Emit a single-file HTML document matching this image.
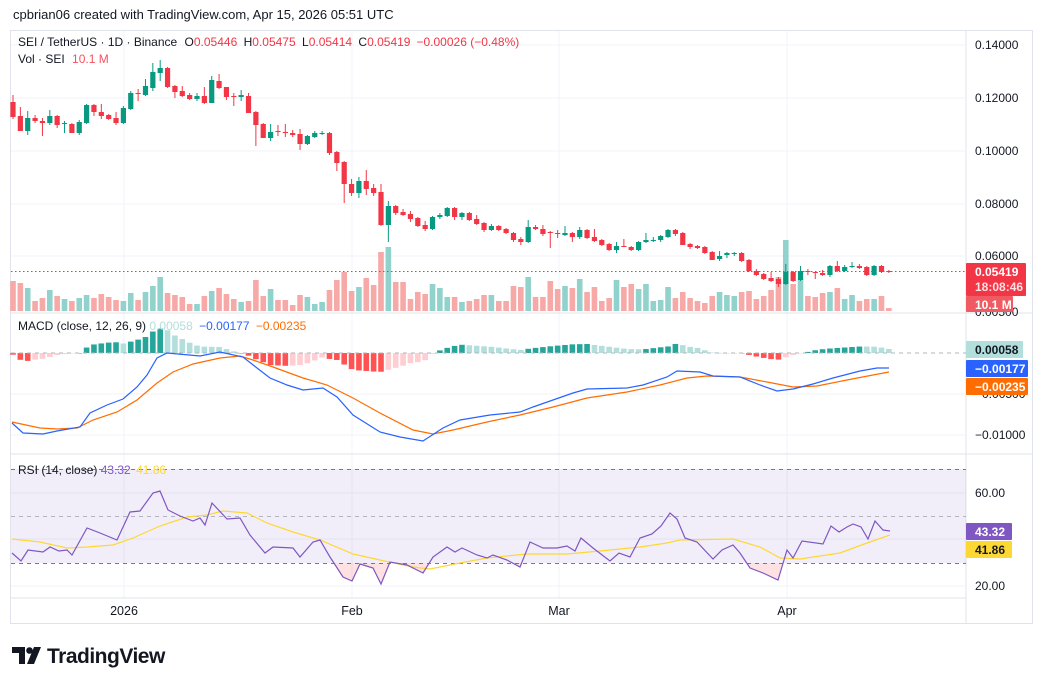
<!DOCTYPE html>
<html><head><meta charset="utf-8"><style>
html,body{margin:0;padding:0;background:#fff;width:1044px;height:685px;overflow:hidden}
svg{display:block;font-family:"Liberation Sans",sans-serif}
</style></head><body>
<svg id="s" width="1044" height="685" xmlns="http://www.w3.org/2000/svg"></svg>
<script>
const C=`0,102,117,95,119|0,116,131,107,131|1,118,131,111,135|0,118,121,115,123|0,121,123,118,136|1,116,123,110,125|0,116,125,115,128|1,123,124,121,133|0,124,133,123,133|1,122,133,120,135|1,105,123,104,124|0,105,112,104,116|0,112,116,104,119|0,115,119,114,120|0,118,123,112,125|1,108,123,106,124|1,93,109,91,110|0,93,94,89,101|1,86,95,79,96|1,72,88,63,91|1,68,73,60,81|0,68,87,67,88|0,86,92,85,98|0,91,96,86,97|0,95,99,93,100|1,96,99,93,101|0,96,103,87,104|1,80,103,76,103|0,81,88,74,89|0,87,97,87,100|0,96,97,93,106|1,95,97,90,101|0,96,113,93,113|0,112,125,111,146|0,124,138,123,138|1,132,138,124,141|0,131,132,125,136|0,132,133,124,137|0,133,135,130,137|0,134,144,129,150|1,136,144,135,145|1,133,137,131,138|1,133,134,131,135|0,133,153,132,155|0,152,163,151,171|0,162,184,161,203|0,184,193,179,196|1,181,193,177,198|0,181,189,170,195|0,188,193,184,196|0,192,225,184,226|1,206,225,201,242|0,206,213,205,215|0,212,215,209,216|0,214,219,211,222|0,218,226,217,227|0,225,229,221,231|1,217,229,216,230|1,215,217,213,219|1,208,216,207,217|0,208,217,207,220|1,213,217,212,220|0,213,220,212,221|0,219,224,215,225|0,223,230,222,232|1,226,230,224,231|0,226,230,225,231|0,229,233,228,234|0,233,240,232,242|0,239,242,237,245|1,227,242,220,243|0,227,229,225,230|0,229,234,225,236|0,232,233,231,248|0,233,234,230,238|1,233,235,226,236|0,233,237,232,242|1,230,237,227,239|0,230,238,229,239|0,237,241,229,242|0,240,245,239,246|0,244,250,243,251|1,246,250,242,253|0,246,247,239,247|0,247,250,246,251|1,242,250,241,251|1,240,242,233,243|1,240,241,237,242|1,236,240,235,242|1,230,237,229,238|0,230,234,229,236|0,233,245,232,245|0,244,247,243,249|0,246,248,245,249|0,247,253,246,254|0,252,260,251,260|1,256,259,251,261|1,253,255,252,258|1,253,254,252,256|0,253,261,252,262|0,260,271,259,272|0,271,275,269,276|0,274,279,273,280|0,278,281,272,282|0,279,284,277,287|1,272,284,264,285|0,272,281,271,282|1,271,280,266,281|0,271,272,269,275|0,272,273,272,279|0,273,275,270,276|1,266,275,265,277|0,266,271,261,272|1,267,271,265,272|1,266,267,262,268|0,266,268,264,269|0,267,275,266,276|1,266,275,265,276|0,266,272,265,273|0,271,272,270,273`.split('|').map(r=>r.split(',').map(Number));
const V=[281,283,288,301,298,290,296,299,301,298,295,298,294,297,300,301,293,300,292,286,277,293,295,297,304,304,296,291,288,294,299,302,301,280,296,289,300,300,305,295,297,304,302,290,280,272,291,287,278,285,252,247,282,282,299,292,294,284,288,297,297,302,301,299,295,295,301,301,286,287,277,297,297,281,289,286,288,279,292,287,301,298,280,287,284,289,284,301,300,287,298,292,298,301,303,296,292,295,296,292,291,299,296,290,277,240,284,279,296,297,293,292,288,299,295,301,299,299,296,308];
const MACD=[[12,423],[23,433],[43,434],[57,431],[80,427],[90,413],[107,405],[123,399],[137,387],[147,375],[157,358],[167,353],[200,356],[220,352],[243,357],[257,368],[270,378],[287,385],[303,390],[323,388],[337,397],[353,415],[380,432],[400,437],[423,441],[443,428],[460,420],[490,415],[520,412],[533,407],[573,393],[587,389],[627,388],[643,385],[667,377],[677,371],[700,372],[713,376],[740,377],[760,385],[777,391],[793,389],[813,384],[833,378],[860,371],[877,368],[889,368]];
const SIG=[[12,422],[40,428],[57,429],[77,428],[93,420],[117,412],[137,400],[157,383],[173,372],[193,364],[220,358],[240,356],[253,360],[273,367],[303,378],[327,385],[353,398],[380,413],[413,430],[433,434],[453,430],[487,422],[520,415],[553,407],[587,398],[627,392],[660,385],[687,378],[707,376],[740,377],[767,382],[793,387],[817,386],[847,380],[873,375],[889,372]];
const RSI=[[12,553],[21,561],[28,550],[43,552],[50,547],[59,551],[67,550],[72,555],[87,528],[100,533],[117,540],[130,512],[140,511],[153,493],[160,491],[168,510],[180,516],[193,521],[200,518],[205,525],[212,503],[227,519],[240,518],[250,535],[265,553],[273,547],[293,548],[300,557],[313,542],[320,540],[330,557],[343,577],[352,581],[360,564],[373,568],[381,584],[390,562],[407,565],[423,573],[433,557],[447,547],[455,552],[462,548],[477,555],[487,558],[493,555],[507,560],[520,567],[530,542],[543,548],[557,548],[567,546],[575,551],[581,538],[593,548],[610,561],[619,553],[630,557],[640,538],[652,534],[661,526],[670,513],[677,519],[685,538],[697,542],[713,559],[722,550],[733,545],[740,553],[750,568],[763,573],[778,580],[787,550],[793,558],[802,541],[823,544],[831,526],[839,532],[847,527],[853,524],[861,527],[868,539],[875,521],[883,530],[890,531]];
const RMA=[[12,539],[40,542],[67,548],[87,547],[113,545],[133,538],[160,526],[187,517],[207,515],[223,511],[247,513],[267,523],[293,532],[320,540],[353,554],[380,560],[413,567],[430,569],[460,563],[487,558],[527,554],[567,554],[600,551],[640,547],[667,543],[680,540],[733,539],[760,547],[780,558],[800,559],[840,553],[867,543],[890,535]];
function interp(P,x){if(x<=P[0][0])return P[0][1];for(let i=1;i<P.length;i++){if(x<=P[i][0]){const a=P[i-1],b=P[i];return a[1]+(b[1]-a[1])*(x-a[0])/(b[0]-a[0]);}}return P[P.length-1][1];}
const pts=P=>P.map(p=>p.join(',')).join(' ');
let o='';
const G='#089981',R='#f23645';
o+=`<text x="13" y="19" font-size="13" fill="#131722">cpbrian06 created with TradingView.com, Apr 15, 2026 05:51 UTC</text>`;
o+=`<rect x="10.5" y="30.5" width="1022" height="593" fill="none" stroke="#e0e3eb"/>`;
o+=`<line x1="966" y1="30" x2="966" y2="623" stroke="#e0e3eb"/>`;
[45,98,151,204,256].forEach(y=>o+=`<line x1="11" y1="${y}" x2="966" y2="${y}" stroke="#f0f3fa"/>`);
[394,435].forEach(y=>o+=`<line x1="11" y1="${y}" x2="966" y2="${y}" stroke="#f0f3fa"/>`);
[493,539,586].forEach(y=>o+=`<line x1="11" y1="${y}" x2="966" y2="${y}" stroke="#f0f3fa"/>`);
[124,352,559,787].forEach(x=>o+=`<line x1="${x}" y1="31" x2="${x}" y2="598" stroke="#f0f3fa"/>`);
o+=`<line x1="11" y1="313" x2="1033" y2="313" stroke="#e0e3eb"/><line x1="11" y1="454" x2="1033" y2="454" stroke="#e0e3eb"/><line x1="11" y1="598" x2="966" y2="598" stroke="#e0e3eb"/>`;
const X=i=>13+i*7.36;
V.forEach((v,i)=>{const c=C[i][0]?'#92d2cc':'#f7a9a7';o+=`<rect x="${X(i)-2.8}" y="${v}" width="5.6" height="${311-v}" fill="${c}"/>`;});
C.forEach((c,i)=>{const col=c[0]?G:R,x=X(i);o+=`<line x1="${x}" y1="${c[3]}" x2="${x}" y2="${c[4]}" stroke="${col}"/><rect x="${x-2.6}" y="${c[1]}" width="5.2" height="${Math.max(1,c[2]-c[1])}" fill="${col}"/>`;});
o+=`<line x1="11" y1="271.5" x2="966" y2="271.5" stroke="${R}" stroke-dasharray="1.5,2.5"/>`;
let ph=0;for(let i=0;i<120;i++){const x=X(i);const h=interp(SIG,x)-interp(MACD,x);let col;if(h>=0)col=h>=ph?'#26a69a':'#b2dfdb';else col=h<=ph?'#ff5252':'#ffcdd2';ph=h;const y=h>=0?353-h:353;o+=`<rect x="${x-2.8}" y="${y}" width="5.6" height="${Math.max(0.5,Math.abs(h))}" fill="${col}"/>`;}
o+=`<line x1="11" y1="353" x2="966" y2="353" stroke="#b2b5be" stroke-dasharray="4,4"/>`;
o+=`<polyline points="${pts(SIG)}" fill="none" stroke="#ff6d00" stroke-width="1.2"/><polyline points="${pts(MACD)}" fill="none" stroke="#2962ff" stroke-width="1.2"/>`;
o+=`<rect x="11" y="469" width="955" height="94" fill="#7e57c2" fill-opacity="0.1"/>`;
o+=`<line x1="11" y1="469.5" x2="966" y2="469.5" stroke="#787b86" stroke-dasharray="4,4"/><line x1="11" y1="516.5" x2="966" y2="516.5" stroke="#b2b5be" stroke-dasharray="4,4"/><line x1="11" y1="563.5" x2="966" y2="563.5" stroke="#787b86" stroke-dasharray="4,4"/>`;
o+=`<clipPath id="lo"><rect x="0" y="563" width="966" height="40"/></clipPath><polygon clip-path="url(#lo)" points="12,563 ${pts(RSI)} 890,563" fill="#f23645" fill-opacity="0.15"/>`;
o+=`<polyline points="${pts(RMA)}" fill="none" stroke="#fdd835" stroke-width="1.2"/><polyline points="${pts(RSI)}" fill="none" stroke="#7e57c2" stroke-width="1.2"/>`;
o+=`<text x="18" y="46" font-size="12" fill="#131722">SEI / TetherUS · 1D · Binance <tspan dx="4">O</tspan><tspan fill="${R}">0.05446</tspan> <tspan dx="3">H</tspan><tspan fill="${R}">0.05475</tspan> <tspan dx="3">L</tspan><tspan fill="${R}">0.05414</tspan> <tspan dx="3">C</tspan><tspan fill="${R}">0.05419</tspan><tspan fill="${R}" dx="6">−0.00026 (−0.48%)</tspan></text>`;
o+=`<text x="18" y="63" font-size="12" fill="#131722">Vol · SEI <tspan fill="#f7525f" dx="4">10.1 M</tspan></text>`;
o+=`<text x="18" y="330" font-size="12" fill="#131722">MACD (close, 12, 26, 9) <tspan fill="#b2dfdb">0.00058</tspan> <tspan fill="#2962ff" dx="3">−0.00177</tspan> <tspan fill="#ff6d00" dx="3">−0.00235</tspan></text>`;
o+=`<text x="18" y="474" font-size="12" fill="#131722">RSI (14, close) <tspan fill="#7e57c2">43.32</tspan> <tspan fill="#fdd835" dx="2">41.86</tspan></text>`;
const ax=(y,t)=>o+=`<text x="975" y="${y+4}" font-size="12" fill="#131722">${t}</text>`;
ax(45,'0.14000');ax(98,'0.12000');ax(151,'0.10000');ax(204,'0.08000');ax(256,'0.06000');ax(312,'0.00500');ax(394,'−0.00500');ax(435,'−0.01000');ax(493,'60.00');ax(586,'20.00');
const tag=(y,h,w,bg,fg,t,t2)=>{o+=`<rect x="966" y="${y}" width="${w}" height="${h}" rx="1" fill="${bg}"/><text x="975" y="${y+13}" font-size="12" font-weight="bold" fill="${fg}">${t}</text>`;if(t2)o+=`<text x="975" y="${y+28}" font-size="12" font-weight="bold" fill="${fg}" fill-opacity="0.85">${t2}</text>`;};
tag(263,33,60,R,'#fff','0.05419','18:08:46');
tag(296,16,47,'#f05a62','#fff','10.1 M');
tag(341,17,57,'#b2dfdb','#131722','0.00058');
tag(360,17,62,'#2962ff','#fff','−0.00177');
tag(378,17,62,'#ff6d00','#fff','−0.00235');
tag(523,17,46,'#7e57c2','#fff','43.32');
tag(541,17,46,'#fdd835','#131722','41.86');
[[124,'2026'],[352,'Feb'],[559,'Mar'],[787,'Apr']].forEach(([x,t])=>o+=`<text x="${x}" y="615" font-size="12.5" fill="#131722" text-anchor="middle">${t}</text>`);
o+=`<path d="M12 647h13v17h-6v-11h-7z" fill="#131722"/><circle cx="29.5" cy="650.5" r="3.3" fill="#131722"/><path d="M34 647h7l-7 17h-7z" fill="#131722"/>`;
o+=`<text x="47" y="663" font-size="21" font-weight="bold" fill="#131722" letter-spacing="-0.5">TradingView</text>`;
document.getElementById('s').innerHTML=o;
</script>
</body></html>
